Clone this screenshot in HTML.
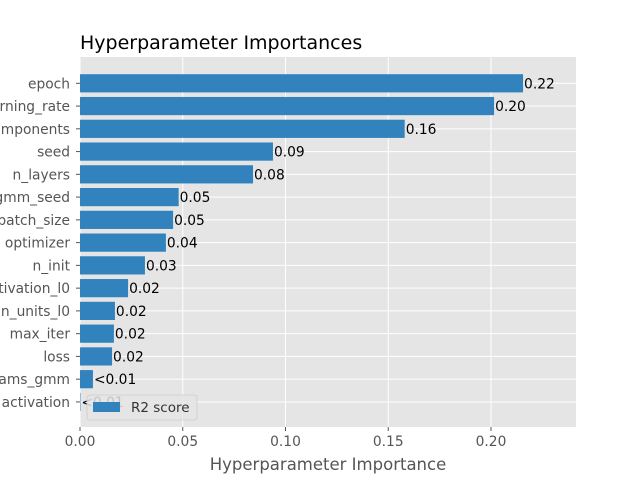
<!DOCTYPE html>
<html><head><meta charset="utf-8"><style>
html,body{margin:0;padding:0;background:#fff;overflow:hidden}
svg text{font-family:"DejaVu Sans","Liberation Sans",sans-serif}
</style></head><body>
<svg id="chart" width="640" height="480" xmlns="http://www.w3.org/2000/svg">
<rect x="80" y="57" width="496" height="370" fill="#e5e5e5"/>
<g id="grid"></g><g id="bars"></g><g id="ylabels"></g><g id="xticks"></g>
<text x="80" y="49" font-size="19" fill="#000">Hyperparameter Importances</text>
<text x="328" y="470" font-size="16.5" fill="#555" text-anchor="middle">Hyperparameter Importance</text>
<g>
<rect x="87" y="395" width="110" height="25" rx="3" fill="#e5e5e5" fill-opacity="0.85" stroke="#ccc" stroke-width="0.8"/>
<rect x="93" y="402" width="27" height="10" fill="#3182BD"/>
<text x="131" y="412" font-size="13.5" fill="#333">R2 score</text>
</g>
</svg>
<script>
const categories=["epoch","learning_rate","n_components","seed","n_layers","gmm_seed","batch_size","optimizer","n_init","activation_l0","n_units_l0","max_iter","loss","params_gmm","activation"];
const values=[0.2156,0.2015,0.158,0.0939,0.0842,0.048,0.0453,0.0418,0.0316,0.0234,0.017,0.0165,0.0156,0.0063,0.0002];
const valueLabels=["0.22","0.20","0.16","0.09","0.08","0.05","0.05","0.04","0.03","0.02","0.02","0.02","0.02","<0.01","<0.01"];
const xTicks=[0,0.05,0.10,0.15,0.20];
const xTickLabels=["0.00","0.05","0.10","0.15","0.20"];
const NS="http://www.w3.org/2000/svg";
const x0=80,pxPer=2055,yTop=83.3,step=22.76,bh=18.2;
const xs=v=>x0+v*pxPer;
const ys=i=>yTop+i*step;
function mk(t,a,p){const e=document.createElementNS(NS,t);for(const k in a)e.setAttribute(k,a[k]);p.appendChild(e);return e;}
const grid=document.getElementById('grid'),bars=document.getElementById('bars'),yl=document.getElementById('ylabels'),xt=document.getElementById('xticks');
xTicks.forEach((t,i)=>{
 const g=mk('line',{x1:xs(t),x2:xs(t),y1:57,y2:427,stroke:'#fff','stroke-width':1},grid);
 
 
 mk('line',{x1:xs(t),x2:xs(t),y1:427,y2:431,stroke:'#555'},xt);
 const l=mk('text',{x:xs(t),y:446,'font-size':13.8,fill:'#555','text-anchor':'middle'},xt);
 l.textContent=xTickLabels[i];
 
 
});
categories.forEach((c,i)=>{
 const y=ys(i);
 const gl=mk('line',{x1:80,x2:576,y1:y,y2:y,stroke:'#fff','stroke-width':1},grid);
 
 
 const r=mk('rect',{x:x0,y:y-bh/2,width:xs(values[i])-x0,height:bh,fill:'#3182BD'},bars);
 
 
 const v=mk('text',{x:xs(values[i])+1,y:y+5,'font-size':13.8,fill:'#000'},bars);
 v.textContent=valueLabels[i];
 
 
 mk('line',{x1:76,x2:80,y1:y,y2:y,stroke:'#555'},yl);
 const t=mk('text',{x:70,y:y+5,'font-size':13.8,fill:'#555','text-anchor':'end'},yl);
 t.textContent=c;
 
 
});
</script>
</body></html>
